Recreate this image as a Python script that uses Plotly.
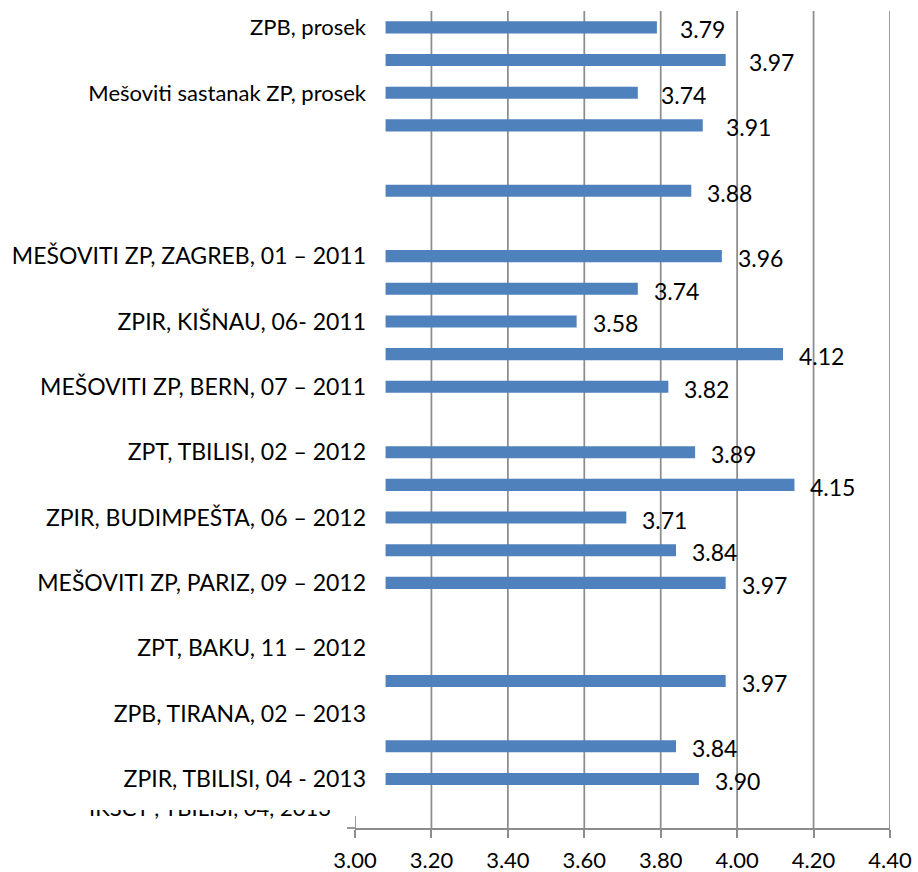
import plotly.graph_objects as go

# ---------------- data ----------------
CATEGORIES = [
    "ZPB, prosek", "", "Mešoviti sastanak ZP, prosek", "", "", "", "",
    "MEŠOVITI ZP, ZAGREB, 01 – 2011", "", "ZPIR, KIŠNAU, 06- 2011", "",
    "MEŠOVITI ZP, BERN, 07 – 2011", "", "ZPT, TBILISI, 02 – 2012", "",
    "ZPIR, BUDIMPEŠTA, 06 – 2012", "", "MEŠOVITI ZP, PARIZ, 09 – 2012", "",
    "ZPT, BAKU, 11 – 2012", "", "ZPB, TIRANA, 02 – 2013", "",
    "ZPIR, TBILISI, 04 - 2013", "",
]
VALUES = [3.79, 3.97, 3.74, 3.91, None, 3.88, None, 3.96, 3.74, 3.58,
          4.12, 3.82, None, 3.89, 4.15, 3.71, 3.84, 3.97, None, None,
          3.97, None, 3.84, 3.90, None]
SMALL_LABEL_ROWS = [0, 2]
AVERAGE_ROWS = [0, 1, 2, 3]
CLIPPED_LABEL = "IKSCT , TBILISI, 04, 2013"
X_TICKS = [3.0, 3.2, 3.4, 3.6, 3.8, 4.0, 4.2, 4.4]
X_TICK_LABELS = ["3.00", "3.20", "3.40", "3.60", "3.80", "4.00", "4.20", "4.40"]
BAR_BASE = 3.08

# ---------------- styling ----------------
FONT = "Lato, 'Open Sans', sans-serif"
BAR_COLOR = "#4F81BD"
GRID_COLOR = "#8C8C8C"
W, H = 918, 872
ML, MR, MT, MB = 0, 28, 11, 44
PLOT_LEFT_PX = 355
paper_w = W - ML - MR
paper_h = H - MT - MB
x_dom0 = PLOT_LEFT_PX / paper_w

rows = list(range(len(CATEGORIES)))
bar_rows = [r for r, v in zip(rows, VALUES) if v is not None]
bar_vals = [v for v in VALUES if v is not None]

ticktext = []
for r, c in enumerate(CATEGORIES):
    if r in SMALL_LABEL_ROWS and c:
        ticktext.append('<span style="font-size:22px">%s</span>' % c)
    else:
        ticktext.append(c)

fig = go.Figure()
fig.add_trace(go.Bar(
    y=bar_rows, x=[v - BAR_BASE for v in bar_vals], base=BAR_BASE,
    orientation="h", marker=dict(color=BAR_COLOR, line=dict(width=0)),
    width=0.37, hoverinfo="skip", showlegend=False,
))

# clipped (partially hidden) last category label
fig.add_trace(go.Scatter(
    x=[1], y=[0.95], text=[CLIPPED_LABEL], mode="text",
    textposition="middle left", textfont=dict(family=FONT, size=22, color="black"),
    cliponaxis=True, xaxis="x2", yaxis="y2", showlegend=False, hoverinfo="skip",
))

# data labels
for r, v in zip(bar_rows, bar_vals):
    fig.add_annotation(
        x=v, y=r, xref="x", yref="y", text="%.2f" % v, showarrow=False,
        xanchor="left", yanchor="middle", xshift=21 if r in AVERAGE_ROWS else 14,
        yshift=-2, font=dict(family=FONT, size=23, color="black"),
    )

shapes = []
# vertical gridlines (except at the axis start)
for t in X_TICKS[1:]:
    shapes.append(dict(type="line", xref="x", yref="paper", x0=t, x1=t, y0=0, y1=1,
                       line=dict(color=GRID_COLOR, width=1.75), layer="below"))
# cross tick at the axis start
stub = 12 / paper_h
shapes.append(dict(type="line", xref="x", yref="paper", x0=X_TICKS[0], x1=X_TICKS[0],
                   y0=0, y1=stub, line=dict(color=GRID_COLOR, width=1.75), layer="above"))
shapes.append(dict(type="line", xref="paper", yref="paper", x0=(PLOT_LEFT_PX - 8) / paper_w,
                   x1=x_dom0, y0=0, y1=0, line=dict(color=GRID_COLOR, width=1.75), layer="above"))

fig.update_layout(
    width=W, height=H,
    margin=dict(l=ML, r=MR, t=MT, b=MB, pad=0, autoexpand=False),
    paper_bgcolor="white", plot_bgcolor="white",
    font=dict(family=FONT, size=23, color="black"),
    bargap=0.63,
    shapes=shapes,
    xaxis=dict(
        domain=[x_dom0, 1], range=[3.0, 4.4], tickvals=X_TICKS, ticktext=X_TICK_LABELS,
        showgrid=False, zeroline=False, showline=True, linecolor=GRID_COLOR, linewidth=1.75,
        ticks="outside", ticklen=8, tickcolor=GRID_COLOR, tickwidth=1.75,
        tickfont=dict(family=FONT, size=22, color="black"), ticklabelstandoff=4,
        anchor="y", fixedrange=True, automargin=False,
    ),
    yaxis=dict(
        range=[len(CATEGORIES) - 0.5, -0.5], tickvals=rows, ticktext=ticktext,
        showgrid=False, zeroline=False, showline=False, ticks="",
        anchor="free", position=(PLOT_LEFT_PX + 11) / paper_w,
        tickfont=dict(family=FONT, size=23, color="black"), fixedrange=True,
        automargin=False,
    ),
    xaxis2=dict(domain=[0, 331 / paper_w], range=[0, 1], showgrid=False, zeroline=False,
                showticklabels=False, showline=False, ticks="", anchor="y2",
                fixedrange=True, automargin=False),
    yaxis2=dict(domain=[0, 18 / paper_h], range=[0, 1], showgrid=False, zeroline=False,
                showticklabels=False, showline=False, ticks="", anchor="x2",
                fixedrange=True, automargin=False),
)

fig.write_html("out.html", config={"displayModeBar": False},
               post_script="document.body.style.margin='0px';")
